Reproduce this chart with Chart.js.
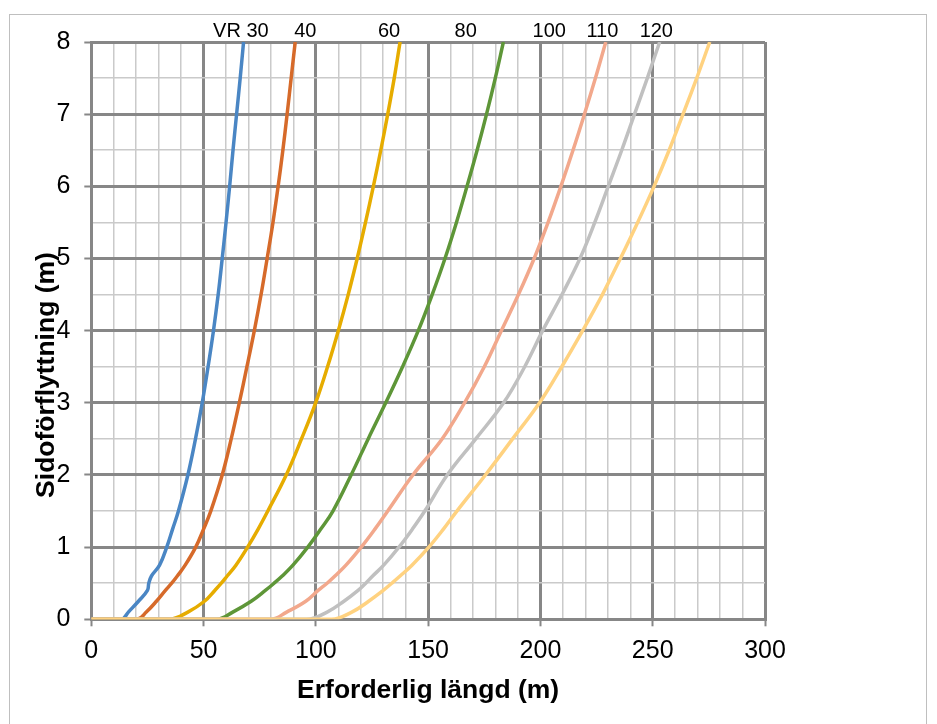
<!DOCTYPE html>
<html>
<head>
<meta charset="utf-8">
<script src="https://cdn.jsdelivr.net/npm/chart.js@4"></script>
<style>
    html, body { margin: 0; padding: 0; background: #fff; }
    #wrap { width: 937px; height: 724px; position: relative; }
</style>
</head>
<body>
<div id="wrap"><canvas id="chart" width="937" height="724"></canvas></div>
<script>
// lateral shift levels (m), shared by every curve; first point is the origin
const shiftLevels = [0, 0, 0.1, 0.25, 0.4, 0.5, 0.6, 0.75, 1, 1.25, 1.5, 2, 2.5, 3, 3.5, 4, 4.5, 5, 5.5, 6, 6.5, 7, 7.5, 8];

// required length (m) at each level, per design speed
const lenVR30 = [0, 13.5, 16.5, 21, 25.0, 25.6, 26.8, 30.4, 33.6, 36.2, 38.8, 43.0, 46.4, 49.4, 52.0, 54.4, 56.5, 58.3, 60.0, 61.6, 63.1, 64.7, 66.3, 67.8];
const len40   = [0, 20.5, 24.5, 29, 33, 35.8, 38.3, 41.8, 46.5, 50, 53.2, 58.3, 62.3, 65.9, 69.3, 72.6, 75.6, 78.3, 80.9, 83.2, 85.3, 87.2, 89.0, 90.8];
const len60   = [0, 35, 43, 50.4, 55, 57.9, 60.5, 64.4, 69.6, 74.3, 78.6, 86.8, 93.6, 99.9, 105.2, 110, 114.4, 118.4, 122.1, 125.6, 128.9, 132, 134.9, 137.5];
const len80   = [0, 56, 63, 71.2, 77.5, 81.4, 85, 89.8, 96.4, 102.2, 107.6, 115.7, 123.3, 131.1, 138.6, 145.6, 151.8, 157.5, 162.6, 167.3, 171.8, 176.0, 179.9, 183.5];
const len100  = [0, 80, 87, 95.5, 101, 105, 108.5, 113.4, 120.2, 126.3, 132, 143.2, 156.2, 166.2, 175.0, 182.6, 190.2, 197.2, 203.4, 209.1, 214.5, 219.6, 224.5, 229.1];
const len110  = [0, 96, 105, 112.5, 118.8, 122.2, 125.3, 130.2, 137, 143, 148.5, 158.5, 171.2, 183.6, 193.0, 201, 209.6, 217.6, 224.2, 230.2, 236.2, 241.9, 247.6, 253.1];
const len120  = [0, 107, 116, 123.5, 130, 133.8, 137.5, 142.8, 150.3, 156.8, 162.8, 175.5, 187.6, 199.6, 209.5, 218.8, 227.6, 235.6, 243.3, 250.6, 257.3, 263.5, 269.6, 275.4];

const speedNames = ["VR 30", "40", "60", "80", "100", "110", "120"];
const speedLengths = [lenVR30, len40, len60, len80, len100, len110, len120];
// where the speed names sit along the length axis (m)
const speedLabelAt = [66.6, 95.3, 132.6, 166.7, 203.9, 227.6, 251.6];

const colors = ["#4a86c4", "#d66a2a", "#e6ac00", "#5e9638", "#f2a88c", "#c0c0c0", "#ffd280"];

const FONT = "'Liberation Sans', Arial, sans-serif";
const MAJOR = "#878787";
const MINOR = "#cacaca";

const datasets = speedLengths.map((lens, i) => ({
    label: speedNames[i],
    data: lens.map((x, k) => ({ x: x, y: shiftLevels[k] })),
    borderColor: colors[i],
    borderWidth: 3.5,
    pointRadius: 0,
    showLine: true,
    fill: false,
    tension: 0.4,
    order: speedNames.length - i
}));

const textPlugin = {
    id: "texts",
    beforeDraw(chart) {
        const ctx = chart.ctx;
        ctx.save();
        ctx.strokeStyle = "#bfbfbf";
        ctx.lineWidth = 1;
        ctx.strokeRect(9.5, 14.5, 917, 730);
        ctx.restore();
    },
    afterDraw(chart) {
        const ctx = chart.ctx;
        const xs = chart.scales.x;
        const area = chart.chartArea;
        ctx.save();
        ctx.fillStyle = "#000";
        ctx.textAlign = "center";
        ctx.textBaseline = "alphabetic";
        ctx.font = "20px " + FONT;
        speedNames.forEach((name, i) => {
            ctx.fillText(name, xs.getPixelForValue(speedLabelAt[i]), area.top - 5);
        });

        ctx.font = "bold 26.5px " + FONT;
        ctx.fillText("Erforderlig längd (m)", (area.left + area.right) / 2, 698);

        ctx.translate(54, 375);
        ctx.rotate(-Math.PI / 2);
        ctx.fillText("Sidoförflyttning (m)", 0, 0);
        ctx.restore();
    }
};

new Chart(document.getElementById("chart"), {
    type: "scatter",
    data: { datasets },
    options: {
        responsive: false,
        animation: false,
        events: [],
        layout: { padding: { top: 42, right: 172, left: 0, bottom: 0 } },
        plugins: {
            legend: { display: false },
            tooltip: { enabled: false }
        },
        scales: {
            x: {
                type: "linear",
                min: 0,
                max: 300,
                afterFit: s => { s.height = 104.7; },
                border: { color: MAJOR, width: 3 },
                grid: {
                    color: c => c.tick.value % 50 === 0 ? MAJOR : MINOR,
                    lineWidth: c => c.tick.value % 50 === 0 ? 3 : 1.5,
                    tickColor: c => c.tick.value % 50 === 0 ? MAJOR : "rgba(0,0,0,0)",
                    tickLength: 7,
                    tickWidth: 2
                },
                ticks: {
                    stepSize: 10,
                    autoSkip: false,
                    maxRotation: 0,
                    padding: 10,
                    color: "#000",
                    font: { family: FONT, size: 25 },
                    callback: v => v % 50 === 0 ? v : ""
                }
            },
            y: {
                type: "linear",
                min: 0,
                max: 8,
                afterFit: s => { s.width = 91.3; },
                border: { color: MAJOR, width: 3 },
                grid: {
                    color: c => Number.isInteger(c.tick.value) ? MAJOR : MINOR,
                    lineWidth: c => Number.isInteger(c.tick.value) ? 3 : 1.5,
                    tickColor: c => Number.isInteger(c.tick.value) ? MAJOR : "rgba(0,0,0,0)",
                    tickLength: 7,
                    tickWidth: 2
                },
                ticks: {
                    stepSize: 0.5,
                    autoSkip: false,
                    padding: 14,
                    color: "#000",
                    font: { family: FONT, size: 25 },
                    callback: v => Number.isInteger(v) ? v : ""
                }
            }
        }
    },
    plugins: [textPlugin]
});
</script>
</body>
</html>
